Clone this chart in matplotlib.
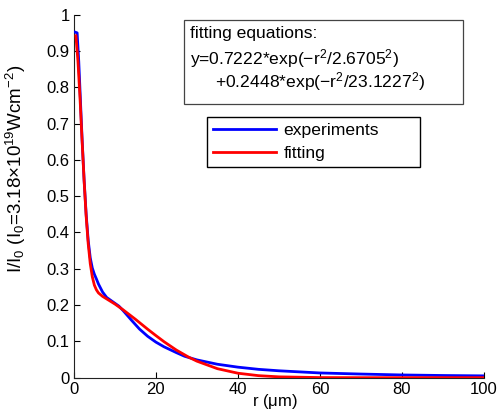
import numpy as np
import matplotlib
matplotlib.use("Agg")
import matplotlib.pyplot as plt
from matplotlib.patches import Rectangle

plt.rcParams['font.family'] = ['Liberation Sans', 'DejaVu Sans']
plt.rcParams['mathtext.fontset'] = 'custom'
plt.rcParams['mathtext.rm'] = 'Liberation Sans'
plt.rcParams['mathtext.it'] = 'Liberation Sans'
plt.rcParams['mathtext.default'] = 'regular'

# ── data ─────────────────────────────────────────────────────────────────────
r_exp = [0.3, 0.8, 1.2, 1.6, 2.0, 2.5, 3.0, 3.5, 4.0, 4.5, 5.0, 5.5, 6.0, 7.0,
         8.0, 9.0, 10.0, 11.0, 12.0, 14.0, 16.0, 18.0, 20.0, 22.0, 25.0, 27.0,
         30.0, 35.0, 40.0, 45.0, 50.0, 60.0, 70.0, 80.0, 90.0, 100.0]
I_exp = [0.952, 0.950, 0.870, 0.765, 0.660, 0.545, 0.450, 0.378, 0.330, 0.302,
         0.285, 0.272, 0.258, 0.236, 0.221, 0.213, 0.205, 0.197, 0.185, 0.159,
         0.134, 0.114, 0.098, 0.085, 0.069, 0.059, 0.049, 0.037, 0.029, 0.023,
         0.019, 0.013, 0.010, 0.0075, 0.006, 0.005]

r_fit = [0.5, 1.0, 1.5, 2.0, 2.5, 3.0, 3.5, 4.0, 4.5, 5.0, 5.5, 6.0, 7.0, 8.0,
         10.0, 12.0, 15.0, 18.0, 20.0, 22.0, 25.0, 28.0, 30.0, 35.0, 40.0,
         45.0, 50.0, 60.0, 70.0, 80.0, 90.0, 100.0]
I_fit = [0.942, 0.872, 0.771, 0.655, 0.543, 0.445, 0.369, 0.314, 0.278, 0.255,
         0.242, 0.2335, 0.224, 0.217, 0.203, 0.187, 0.161, 0.1335, 0.116,
         0.099, 0.076, 0.0565, 0.0455, 0.0248, 0.0123, 0.0056, 0.0023, 0.0003,
         0.0, 0.0, 0.0, 0.0]

x_ticks = [0, 20, 40, 60, 80, 100]
y_ticks = [0, 0.1, 0.2, 0.3, 0.4, 0.5, 0.6, 0.7, 0.8, 0.9, 1.0]
y_tick_labels = ['0', '0.1', '0.2', '0.3', '0.4', '0.5', '0.6', '0.7', '0.8', '0.9', '1']

eq_lines = ["fitting equations:",
            "y=0.7222*exp(\u2212r$^2$/2.6705$^2$)",
            "+0.2448*exp(\u2212r$^2$/23.1227$^2$)"]

# ── figure ────────────────────────────────────────────────────────────────────
fig = plt.figure(figsize=(4.99, 4.12), dpi=100, facecolor="white")
ax = fig.add_axes([0.148, 0.0833, 0.822, 0.881])

ax.plot(r_exp, I_exp, "-", color="#0000ff", lw=2.0, label="experiments", zorder=3)
ax.plot(r_fit, I_fit, "-", color="#ff0000", lw=2.0, label="fitting", zorder=4)

ax.set_xlim(0, 100)
ax.set_ylim(0, 1)
ax.set_xticks(x_ticks)
ax.set_xticklabels([str(t) for t in x_ticks])
ax.set_yticks(y_ticks)
ax.set_yticklabels(y_tick_labels)
ax.tick_params(direction="in", length=4, width=0.8, labelsize=12, pad=3)
for side in ("top", "right"):
    ax.spines[side].set_visible(False)
for side in ("left", "bottom"):
    ax.spines[side].set_linewidth(0.8)
    ax.spines[side].set_color("#222222")

ax.set_xlabel("r ($\\mu$m)", fontsize=12)
ax.xaxis.set_label_coords(0.49, -0.040)
ax.set_ylabel("I/I$_0$ (I$_0$=3.18\u00d710$^{19}$Wcm$^{-2}$)", fontsize=13.5)
ax.yaxis.set_label_coords(-0.113, 0.575)

# equations box
ax.add_patch(Rectangle((0.268, 0.754), 0.681, 0.231, transform=ax.transAxes,
                       facecolor="white", edgecolor="#444444", lw=0.9, zorder=5))
ax.text(0.283, 0.936, eq_lines[0], transform=ax.transAxes, fontsize=12.6,
        va="baseline", ha="left", zorder=6)
ax.text(0.283, 0.863, eq_lines[1], transform=ax.transAxes, fontsize=12.6,
        va="baseline", ha="left", zorder=6)
ax.text(0.344, 0.799, eq_lines[2], transform=ax.transAxes, fontsize=12.6,
        va="baseline", ha="left", zorder=6)

leg = ax.legend(loc="upper left", bbox_to_anchor=(0.324, 0.580, 0.520, 0.138),
                mode="expand", borderaxespad=0,
                fontsize=12.6, handlelength=3.6, handletextpad=0.45,
                labelspacing=0.4, borderpad=0.35, fancybox=False,
                edgecolor="black", framealpha=1)
leg.get_frame().set_linewidth(1.0)

fig.savefig("out.png", dpi=100, facecolor="white")
